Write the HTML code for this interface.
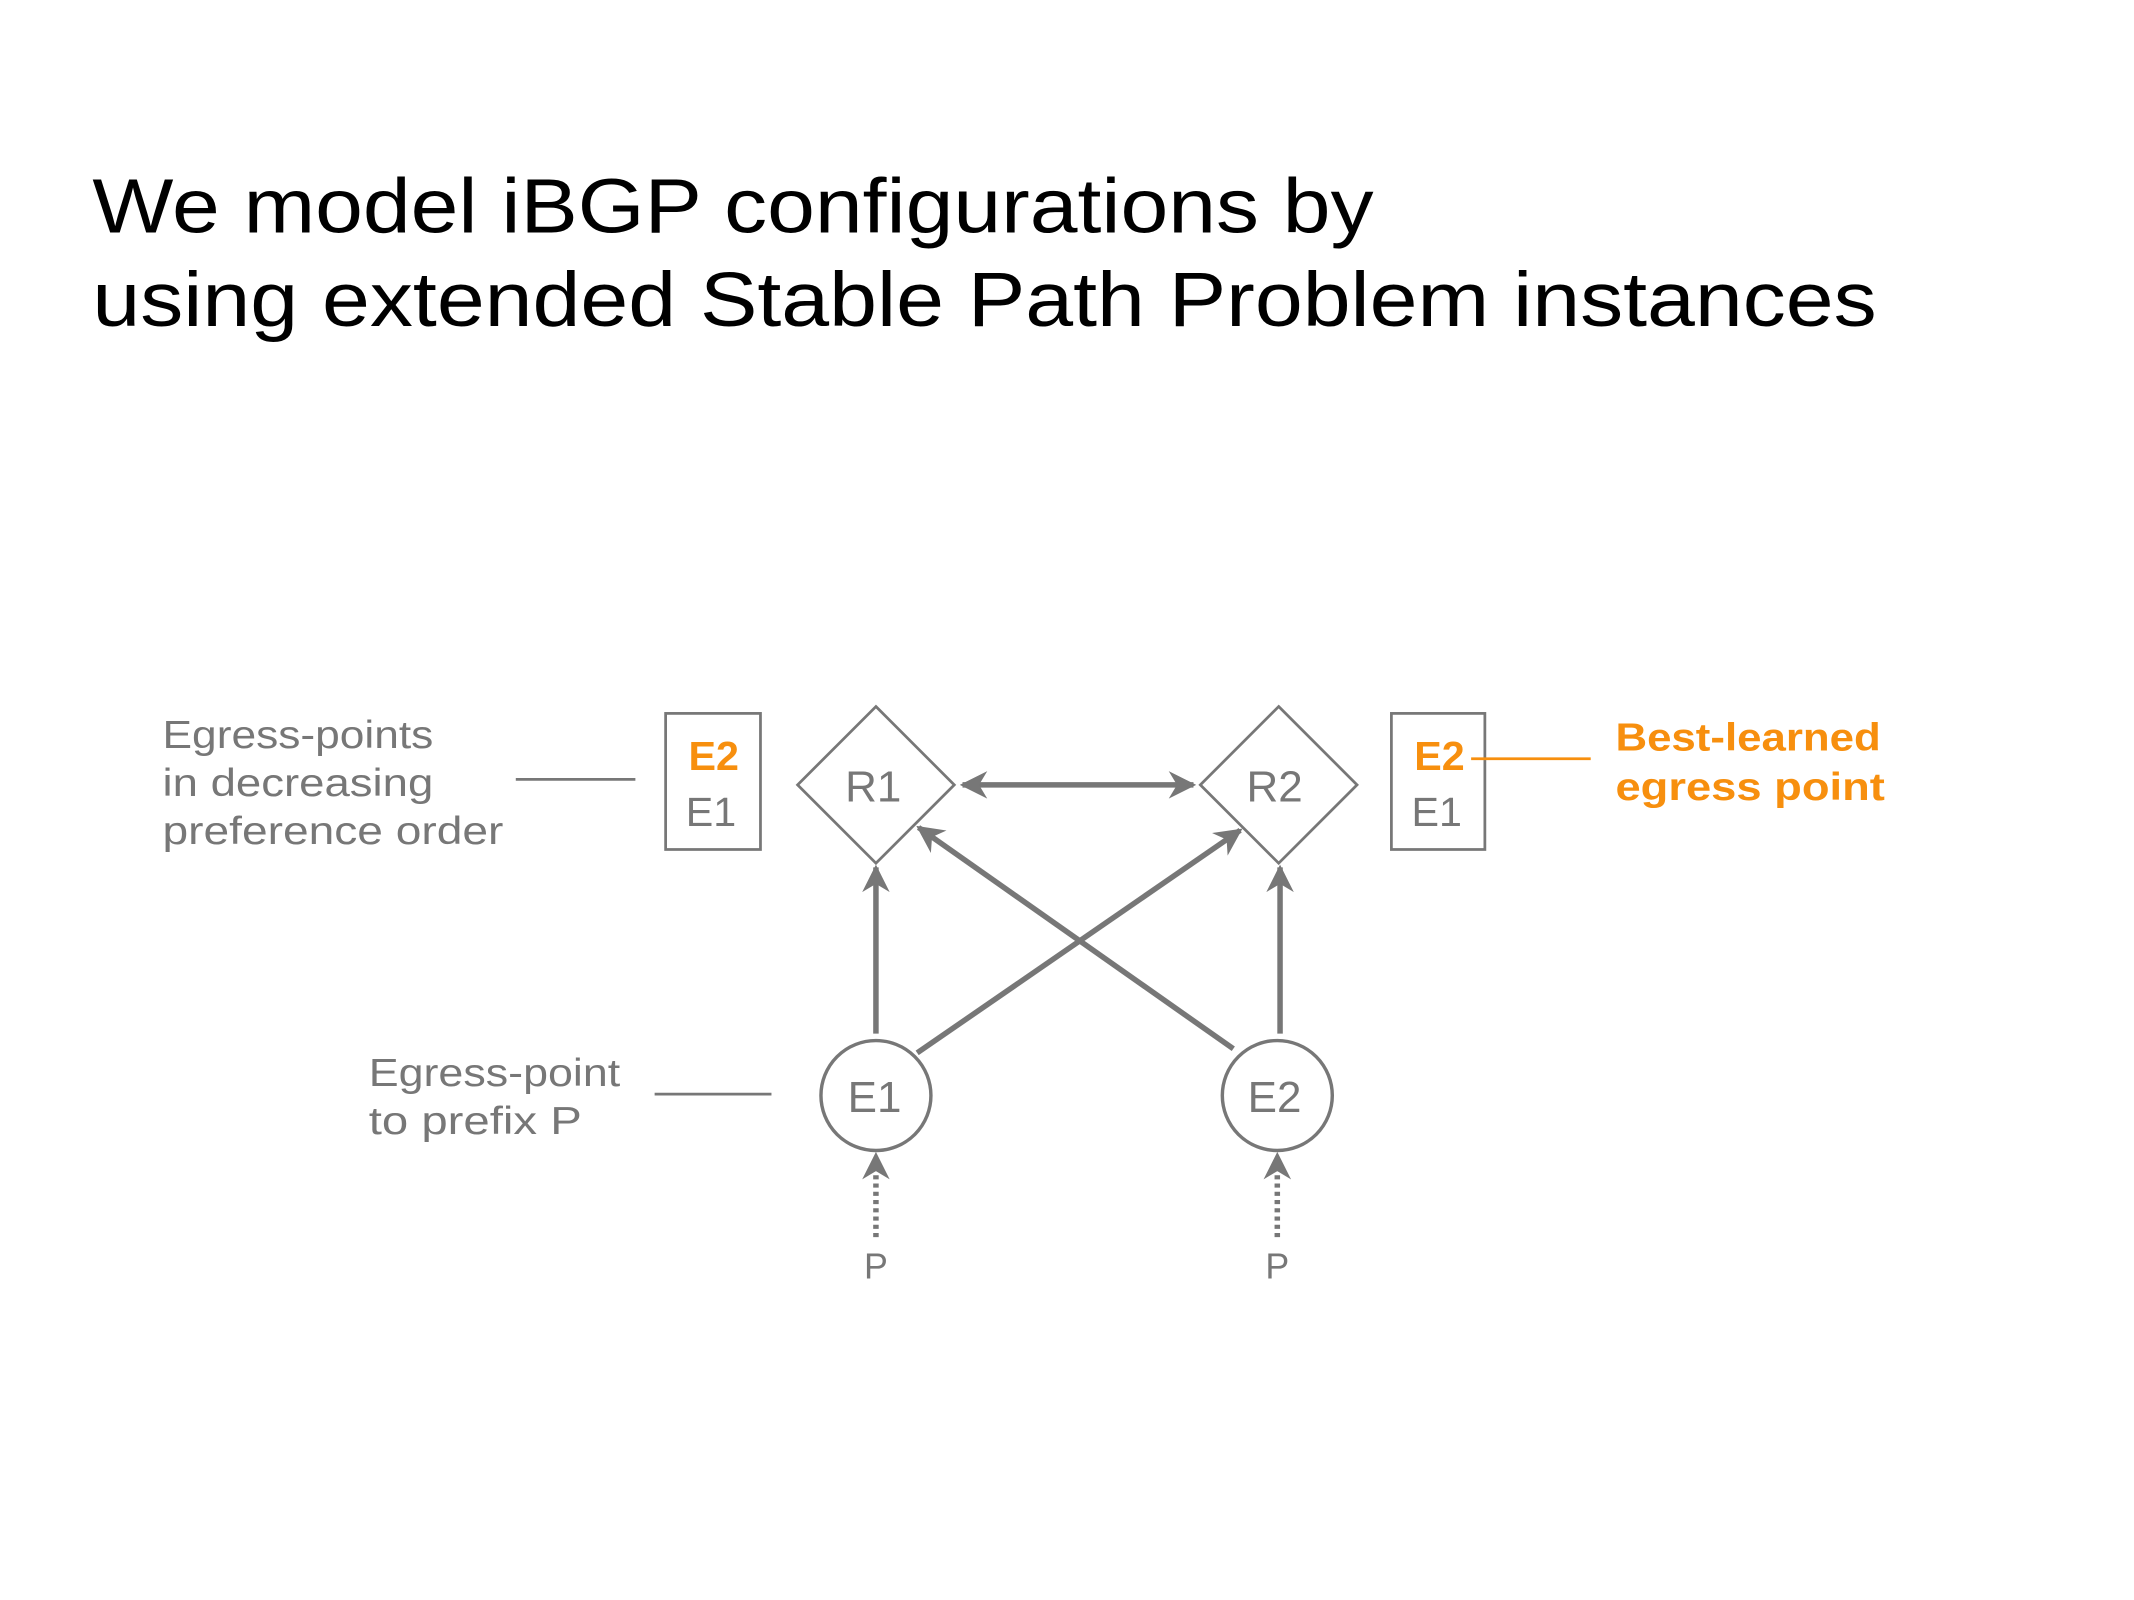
<!DOCTYPE html>
<html><head><meta charset="utf-8"><style>html,body{margin:0;padding:0;background:#fff}svg{display:block}</style></head><body>
<svg width="2134" height="1600" viewBox="0 0 1552 1164" xmlns="http://www.w3.org/2000/svg" font-family="Liberation Sans, DejaVu Sans, sans-serif">
<defs>
<marker id="ah" viewBox="0 0 10 10" refX="9" refY="5" markerWidth="5" markerHeight="5" orient="auto-start-reverse" markerUnits="strokeWidth"><path d="M0,0 L10,5 L0,10 L3,5 z" fill="#777"/></marker>
<marker id="ah2" viewBox="0 0 10 10" refX="9" refY="5" markerWidth="7" markerHeight="7" orient="auto" markerUnits="strokeWidth"><path d="M0,0 L10,5 L0,10 L3,5 z" fill="#777"/></marker>
</defs>
<text x="67" y="169" font-size="56" fill="#000" textLength="932" lengthAdjust="spacingAndGlyphs">We model iBGP configurations by</text>
<text x="67" y="237" font-size="56" fill="#000" textLength="1298" lengthAdjust="spacingAndGlyphs">using extended Stable Path Problem instances</text>
<g fill="#777" font-size="28">
<text x="118" y="544" textLength="197" lengthAdjust="spacingAndGlyphs">Egress-points</text>
<text x="118" y="579" textLength="197" lengthAdjust="spacingAndGlyphs">in decreasing</text>
<text x="118" y="614" textLength="248" lengthAdjust="spacingAndGlyphs">preference order</text>
<text x="268" y="790" textLength="183" lengthAdjust="spacingAndGlyphs">Egress-point</text>
<text x="268" y="825" textLength="155" lengthAdjust="spacingAndGlyphs">to prefix P</text>
</g>
<g fill="#f78f0e" font-size="28" font-weight="bold">
<text x="1175" y="546" textLength="193" lengthAdjust="spacingAndGlyphs">Best-learned</text>
<text x="1175" y="582" textLength="196" lengthAdjust="spacingAndGlyphs">egress point</text>
</g>
<g stroke="#777" fill="none">
<line x1="375" y1="567" x2="462" y2="567" stroke-width="2"/>
<line x1="476" y1="796" x2="561" y2="796" stroke-width="2"/>
<rect x="484" y="519" width="69" height="99" stroke-width="2"/>
<rect x="1012" y="519" width="68" height="99" stroke-width="2"/>
<polygon points="637,514 694,571 637,628 580,571" stroke-width="2"/>
<polygon points="930,514 987,571 930,628 873,571" stroke-width="2"/>
<circle cx="637" cy="797" r="40" stroke-width="2.5"/>
<circle cx="929" cy="797" r="40" stroke-width="2.5"/>
<g stroke-width="4">
<line x1="700" y1="571" x2="868" y2="571" marker-start="url(#ah)" marker-end="url(#ah)"/>
<line x1="637" y1="752" x2="637" y2="631" marker-end="url(#ah)"/>
<line x1="931" y1="752" x2="931" y2="631" marker-end="url(#ah)"/>
<line x1="667" y1="766" x2="902" y2="604" marker-end="url(#ah)"/>
<line x1="897" y1="763" x2="668" y2="602" marker-end="url(#ah)"/>
<line x1="637" y1="900" x2="637" y2="840" stroke-dasharray="3,3" marker-end="url(#ah)"/>
<line x1="929" y1="900" x2="929" y2="840" stroke-dasharray="3,3" marker-end="url(#ah)"/>
</g>
<line x1="1070" y1="552" x2="1157" y2="552" stroke="#f78f0e" stroke-width="2"/>
</g>
<g font-size="30" text-anchor="middle">
<text x="519" y="560" fill="#f78f0e" font-weight="bold">E2</text>
<text x="517" y="601" fill="#777">E1</text>
<text x="1047" y="560" fill="#f78f0e" font-weight="bold">E2</text>
<text x="1045" y="601" fill="#777">E1</text>
<text x="635" y="583" fill="#777" font-size="32">R1</text>
<text x="927" y="583" fill="#777" font-size="32">R2</text>
<text x="636" y="809" fill="#777" font-size="32">E1</text>
<text x="927" y="809" fill="#777" font-size="32">E2</text>
<text x="637" y="930" fill="#777" font-size="26">P</text>
<text x="929" y="930" fill="#777" font-size="26">P</text>
</g>
</svg>
</body></html>
